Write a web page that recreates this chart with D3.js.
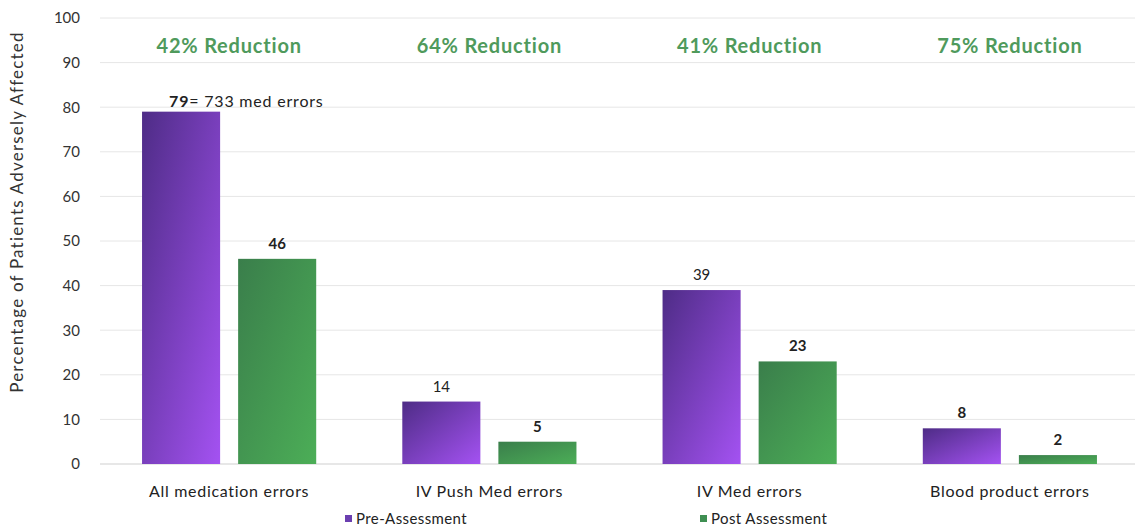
<!DOCTYPE html>
<html>
<head>
<meta charset="utf-8">
<script src="https://cdn.jsdelivr.net/npm/d3@7"></script>
<style>
  body { margin: 0; background: #fff; }
  svg { display: block; font-family: Lato, "Open Sans", sans-serif; }
</style>
</head>
<body>
<svg id="chart" width="1135" height="529"></svg>
<script>
// Medication error categories and percentages of patients adversely affected
const categories = ["All medication errors", "IV Push Med errors", "IV Med errors", "Blood product errors"];
const seriesNames = ["Pre-Assessment", "Post Assessment"];
const preValues = [79, 14, 39, 8];
const postValues = [46, 5, 23, 2];
const reductions = ["42% Reduction", "64% Reduction", "41% Reduction", "75% Reduction"];
const preBold = [true, false, false, true];
const postBold = [true, true, true, true];
const firstNote = "= 733 med errors";
const yTicks = [0, 10, 20, 30, 40, 50, 60, 70, 80, 90, 100];

const svg = d3.select("#chart");
const W = 1135, H = 529;
const margin = { left: 99, right: -5, top: 18, bottom: 65 };

const x0 = d3.scaleBand().domain(categories).range([margin.left, W - margin.right]).padding(0);
const x1 = d3.scaleBand().domain(seriesNames).range([0, x0.bandwidth()])
  .paddingInner(0.1875).paddingOuter(0.448);
const y = d3.scaleLinear().domain([0, 100]).range([H - margin.bottom, margin.top]);

// Gradients
const defs = svg.append("defs");
function grad(id, c0, c1) {
  const g = defs.append("linearGradient").attr("id", id)
    .attr("x1", "0%").attr("y1", "0%").attr("x2", "100%").attr("y2", "100%");
  g.append("stop").attr("offset", "0%").attr("stop-color", c0);
  g.append("stop").attr("offset", "100%").attr("stop-color", c1);
}
grad("gPre", "#4e2c86", "#a452f2");
grad("gPost", "#3a7e4b", "#4cae57");
const fills = { "Pre-Assessment": "url(#gPre)", "Post Assessment": "url(#gPost)" };
const legendColors = { "Pre-Assessment": "#6b3fb0", "Post Assessment": "#3f8f52" };

// Gridlines
const gridX0 = 100, gridX1 = 1135;
svg.append("g").selectAll("line").data(yTicks.filter(d => d > 0)).join("line")
  .attr("x1", gridX0).attr("x2", gridX1)
  .attr("y1", d => y(d)).attr("y2", d => y(d))
  .attr("stroke", "#e6e6e6").attr("stroke-width", 1);
svg.append("line").attr("x1", gridX0).attr("x2", gridX1)
  .attr("y1", y(0)).attr("y2", y(0)).attr("stroke", "#cfcfcf").attr("stroke-width", 1.2);

// Y axis labels
const yAxis = d3.axisLeft(y).tickValues(yTicks).tickSize(0).tickPadding(0);
const ya = svg.append("g").attr("transform", `translate(80,0)`).call(yAxis);
ya.select(".domain").remove();
ya.selectAll("text").attr("font-size", 15).attr("fill", "#333").attr("font-family", "Lato, sans-serif");

// Y title
svg.append("text").attr("transform", `translate(23,${y(50) - 29}) rotate(-90)`)
  .attr("text-anchor", "middle").attr("font-size", 17).attr("letter-spacing", 1.2).attr("fill", "#333")
  .text("Percentage of Patients Adversely Affected");

// Bars
const rows = categories.map((c, i) => ({ cat: c, i, vals: [
  { s: seriesNames[0], v: preValues[i], bold: preBold[i] },
  { s: seriesNames[1], v: postValues[i], bold: postBold[i] }
]}));

const groups = svg.append("g").selectAll("g").data(rows).join("g")
  .attr("transform", d => `translate(${x0(d.cat)},0)`);

groups.selectAll("rect").data(d => d.vals).join("rect")
  .attr("x", d => x1(d.s)).attr("width", x1.bandwidth())
  .attr("y", d => y(d.v)).attr("height", d => y(0) - y(d.v))
  .attr("fill", d => fills[d.s]);

// Value labels
groups.each(function(d) {
  const g = d3.select(this);
  d.vals.forEach((v, j) => {
    const cx = x1(v.s) + x1.bandwidth() / 2;
    if (d.i === 0 && j === 0) {
      const t = g.append("text").attr("x", cx - 12).attr("y", y(v.v) - 5)
        .attr("font-size", 16).attr("letter-spacing", 0.8).attr("fill", "#222");
      t.append("tspan").attr("font-weight", "bold").text(v.v);
      t.append("tspan").text(firstNote);
    } else {
      g.append("text").attr("x", cx).attr("y", y(v.v) - 10)
        .attr("text-anchor", "middle").attr("font-size", 15)
        .attr("font-weight", v.bold ? "bold" : "normal").attr("fill", "#222")
        .text(v.v);
    }
  });
});

// Reduction headings
svg.append("g").selectAll("text").data(reductions).join("text")
  .attr("x", (d, i) => x0(categories[i]) + x0.bandwidth() / 2)
  .attr("y", 53)
  .attr("text-anchor", "middle").attr("font-size", 20).attr("letter-spacing", 0.8)
  .attr("font-weight", "bold").attr("fill", "#4f9a5c").text(d => d);

// Category labels
svg.append("g").selectAll("text").data(categories).join("text")
  .attr("x", d => x0(d) + x0.bandwidth() / 2).attr("y", 497)
  .attr("text-anchor", "middle").attr("font-size", 16).attr("letter-spacing", 0.7).attr("fill", "#222")
  .text(d => d);

// Legend
const legendX = [345, 700];
const lg = svg.append("g").selectAll("g").data(seriesNames).join("g")
  .attr("transform", (d, i) => `translate(${legendX[i]},519)`);
lg.append("rect").attr("x", 0).attr("y", -4).attr("width", 7).attr("height", 7)
  .attr("fill", d => legendColors[d]);
lg.append("text").attr("x", 11).attr("y", 5).attr("font-size", 15).attr("letter-spacing", 0.4).attr("fill", "#222")
  .text(d => d);
</script>
</body>
</html>
